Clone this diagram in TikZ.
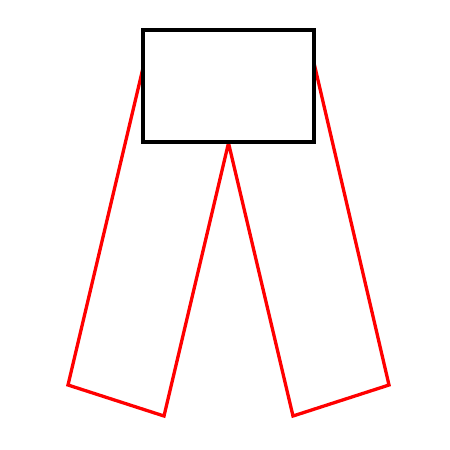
\documentclass[tikz,border=0pt]{standalone}
\begin{document}
\begin{tikzpicture}[x=1pt,y=-1pt,
  leg/.style={draw=red,line width=3.3pt,line join=miter},
  box/.style={draw=black,line width=3.3pt,fill=white}]
\useasboundingbox[fill=white] (0,0) rectangle (450,450);
\coordinate (lt) at (143,68);
\coordinate (lb1) at (68,385);
\coordinate (lb2) at (164,416);
\coordinate (c) at (228.5,143);
\coordinate (rb1) at (293,416);
\coordinate (rb2) at (389,385);
\coordinate (rt) at (314,63);
\draw[leg] (lt) -- (lb1) -- (lb2) -- (c) -- (rb1) -- (rb2) -- (rt);
\node[box,minimum width=171pt,minimum height=112pt,inner sep=0pt,outer sep=0pt] (r) at (228.5,86) {};
\end{tikzpicture}
\end{document}
